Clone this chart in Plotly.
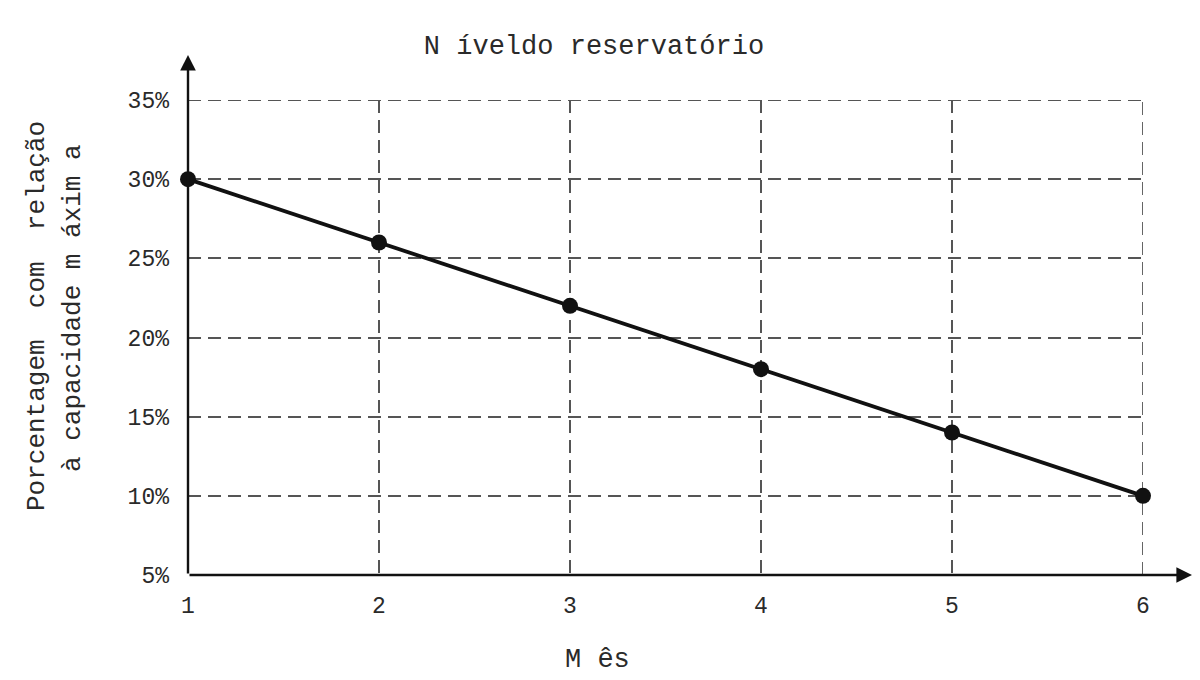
import plotly.graph_objects as go

months = [1, 2, 3, 4, 5, 6]
levels = [30, 26, 22, 18, 14, 10]
x_ticks = [1, 2, 3, 4, 5, 6]
x_ticklabels = ["1", "2", "3", "4", "5", "6"]
y_ticks = [5, 10, 15, 20, 25, 30, 35]
y_ticklabels = ["5%", "10%", "15%", "20%", "25%", "30%", "35%"]

title_text = "N íveldo reservatório"
ylabel_1 = "Porcentagem  com  relação"
ylabel_2 = "à capacidade m áxim a"
xlabel = "M ês"

FONT = "Liberation Mono"
TXT = "#2a2a2a"
GRID = "#555555"
DASH = "13px,7px"

# page body has an 8px margin, so the figure is offset by 8px
OFF = 8
W, H = 1200 - OFF, 680 - OFF
L, R, T, B = 188 - OFF, 57, 100 - OFF, 105
pw, ph = W - L - R, H - T - B

fig = go.Figure()

# edge gridlines that plotly omits at the range boundary
fig.add_shape(type="line", xref="x", yref="y",
              x0=x_ticks[0], x1=x_ticks[-1], y0=y_ticks[-1], y1=y_ticks[-1],
              line=dict(color=GRID, width=1.8, dash=DASH), layer="below")
fig.add_shape(type="line", xref="x", yref="y",
              x0=x_ticks[-1], x1=x_ticks[-1], y0=y_ticks[0], y1=y_ticks[-1],
              line=dict(color=GRID, width=1.8, dash=DASH), layer="below")

fig.add_trace(go.Scatter(
    x=months, y=levels, mode="lines+markers",
    line=dict(color="#111111", width=3.8),
    marker=dict(color="#111111", size=16),
    cliponaxis=False, showlegend=False,
))

fig.update_layout(
    width=W, height=H,
    margin=dict(l=L, r=R, t=T, b=B),
    plot_bgcolor="white", paper_bgcolor="white",
    font=dict(family=FONT, color=TXT),
    title=dict(text=title_text, x=(594 - OFF) / W, xanchor="center",
               y=1 - (45 - OFF) / H, yanchor="middle",
               font=dict(family=FONT, size=27, color=TXT)),
    xaxis=dict(range=[1, 6], tickvals=x_ticks, ticktext=x_ticklabels,
               showgrid=True, gridcolor=GRID, griddash=DASH, gridwidth=1.7,
               showline=False, zeroline=False, ticks="",
               ticklabelstandoff=14,
               tickfont=dict(family=FONT, size=23, color=TXT)),
    yaxis=dict(range=[5, 35], tickvals=y_ticks, ticktext=y_ticklabels,
               showgrid=True, gridcolor=GRID, griddash=DASH, gridwidth=1.7,
               showline=False, zeroline=False, ticks="",
               ticklabelstandoff=18,
               tickfont=dict(family=FONT, size=23, color=TXT)),
)

# axes with arrows
fig.add_annotation(xref="paper", yref="paper", x=1 + 49 / pw, y=0,
                   ax=-(pw + 49), ay=0, axref="pixel", ayref="pixel",
                   showarrow=True, arrowhead=2, arrowsize=1.3, arrowwidth=2.4,
                   arrowcolor="#111111", text="")
fig.add_annotation(xref="paper", yref="paper", x=0, y=1 + 45 / ph,
                   ax=0, ay=ph + 45, axref="pixel", ayref="pixel",
                   showarrow=True, arrowhead=2, arrowsize=1.3, arrowwidth=2.4,
                   arrowcolor="#111111", text="")

# y-axis label (two lines)
fig.add_annotation(xref="paper", yref="paper", x=(37 - 188) / pw, y=1 - (316 - 100) / ph,
                   text=ylabel_1, textangle=-90, showarrow=False,
                   xanchor="center", yanchor="middle",
                   font=dict(family=FONT, size=26, color=TXT))
fig.add_annotation(xref="paper", yref="paper", x=(73 - 188) / pw, y=1 - (308 - 100) / ph,
                   text=ylabel_2, textangle=-90, showarrow=False,
                   xanchor="center", yanchor="middle",
                   font=dict(family=FONT, size=26, color=TXT))
# x-axis label
fig.add_annotation(xref="paper", yref="paper", x=(597 - 188) / pw, y=-(660 - 575) / ph,
                   text=xlabel, showarrow=False, xanchor="center", yanchor="middle",
                   font=dict(family=FONT, size=27, color=TXT))

fig.write_html("out.html")
